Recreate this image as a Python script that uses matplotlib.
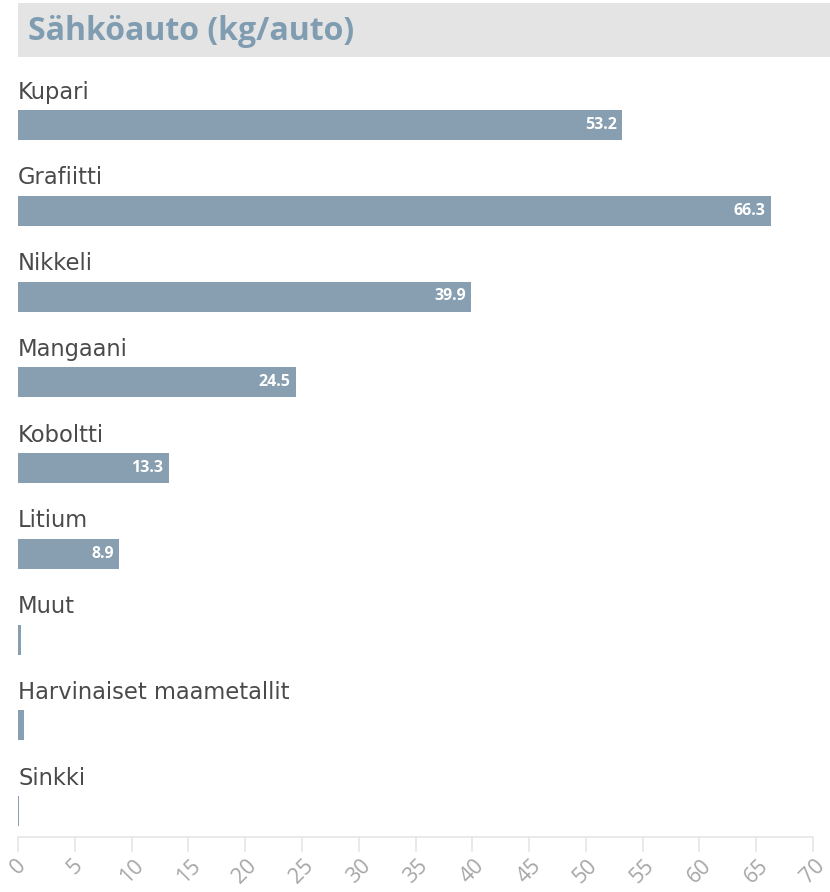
import matplotlib
matplotlib.use("Agg")
import matplotlib.pyplot as plt
from matplotlib.patches import Rectangle

plt.rcParams['font.family'] = ['Open Sans', 'DejaVu Sans']

title = "Sähköauto (kg/auto)"
categories = ["Kupari", "Grafiitti", "Nikkeli", "Mangaani", "Koboltti", "Litium",
              "Muut", "Harvinaiset maametallit", "Sinkki"]
values = [53.2, 66.3, 39.9, 24.5, 13.3, 8.9, 0.25, 0.5, 0.1]
value_labels = ["53.2", "66.3", "39.9", "24.5", "13.3", "8.9", "", "", ""]
xticks = list(range(0, 75, 5))

W, H = 830, 892
fig = plt.figure(figsize=(W / 100, H / 100), dpi=100)

# title band
fig.patches.append(Rectangle((18 / W, 1 - 57 / H), (W - 18) / W, 54 / H,
                             transform=fig.transFigure, facecolor="#e4e4e4",
                             edgecolor="none", zorder=0))
fig.text(28 / W, 1 - 31 / H, title, fontsize=23, fontweight="bold",
         color="#7f9cb1", va="center", ha="left")

left, right = 18 / W, 813 / W
bottom, top = 1 - 837 / H, 1 - 67 / H
ax = fig.add_axes([left, bottom, right - left, top - bottom])

step = 85.75
y0 = 125
ylim_top = (67 - y0) / step
ylim_bot = (837 - y0) / step
bar_h = 30 / step

pos = list(range(len(categories)))
ax.barh(pos, values, height=bar_h, color="#879fb0", edgecolor="none")
ax.set_xlim(0, 70)
ax.set_ylim(ylim_bot, ylim_top)

for i, (cat, v, lab) in enumerate(zip(categories, values, value_labels)):
    ax.text(0, i - 33 / step, cat, fontsize=16.3, color="#4a4a4a",
            ha="left", va="center", family=["DejaVu Sans"])
    if lab:
        ax.annotate(lab, (v, i), xytext=(-4, 0), textcoords="offset points",
                    ha="right", va="center", fontsize=11.5, fontweight="bold",
                    color="white")

for s in ["top", "right", "left"]:
    ax.spines[s].set_visible(False)
ax.spines["bottom"].set_color("#e6e6e6")
ax.spines["bottom"].set_linewidth(1.2)
ax.set_yticks([])
ax.set_xticks(xticks)
ax.set_xticklabels([str(t) for t in xticks], rotation=45, ha="center",
                   fontsize=15.5, color="#a6a6a6")
ax.tick_params(axis="x", length=11, width=1.2, color="#e6e6e6", pad=2)
ax.patch.set_alpha(0)

fig.savefig("out.png", dpi=100)
